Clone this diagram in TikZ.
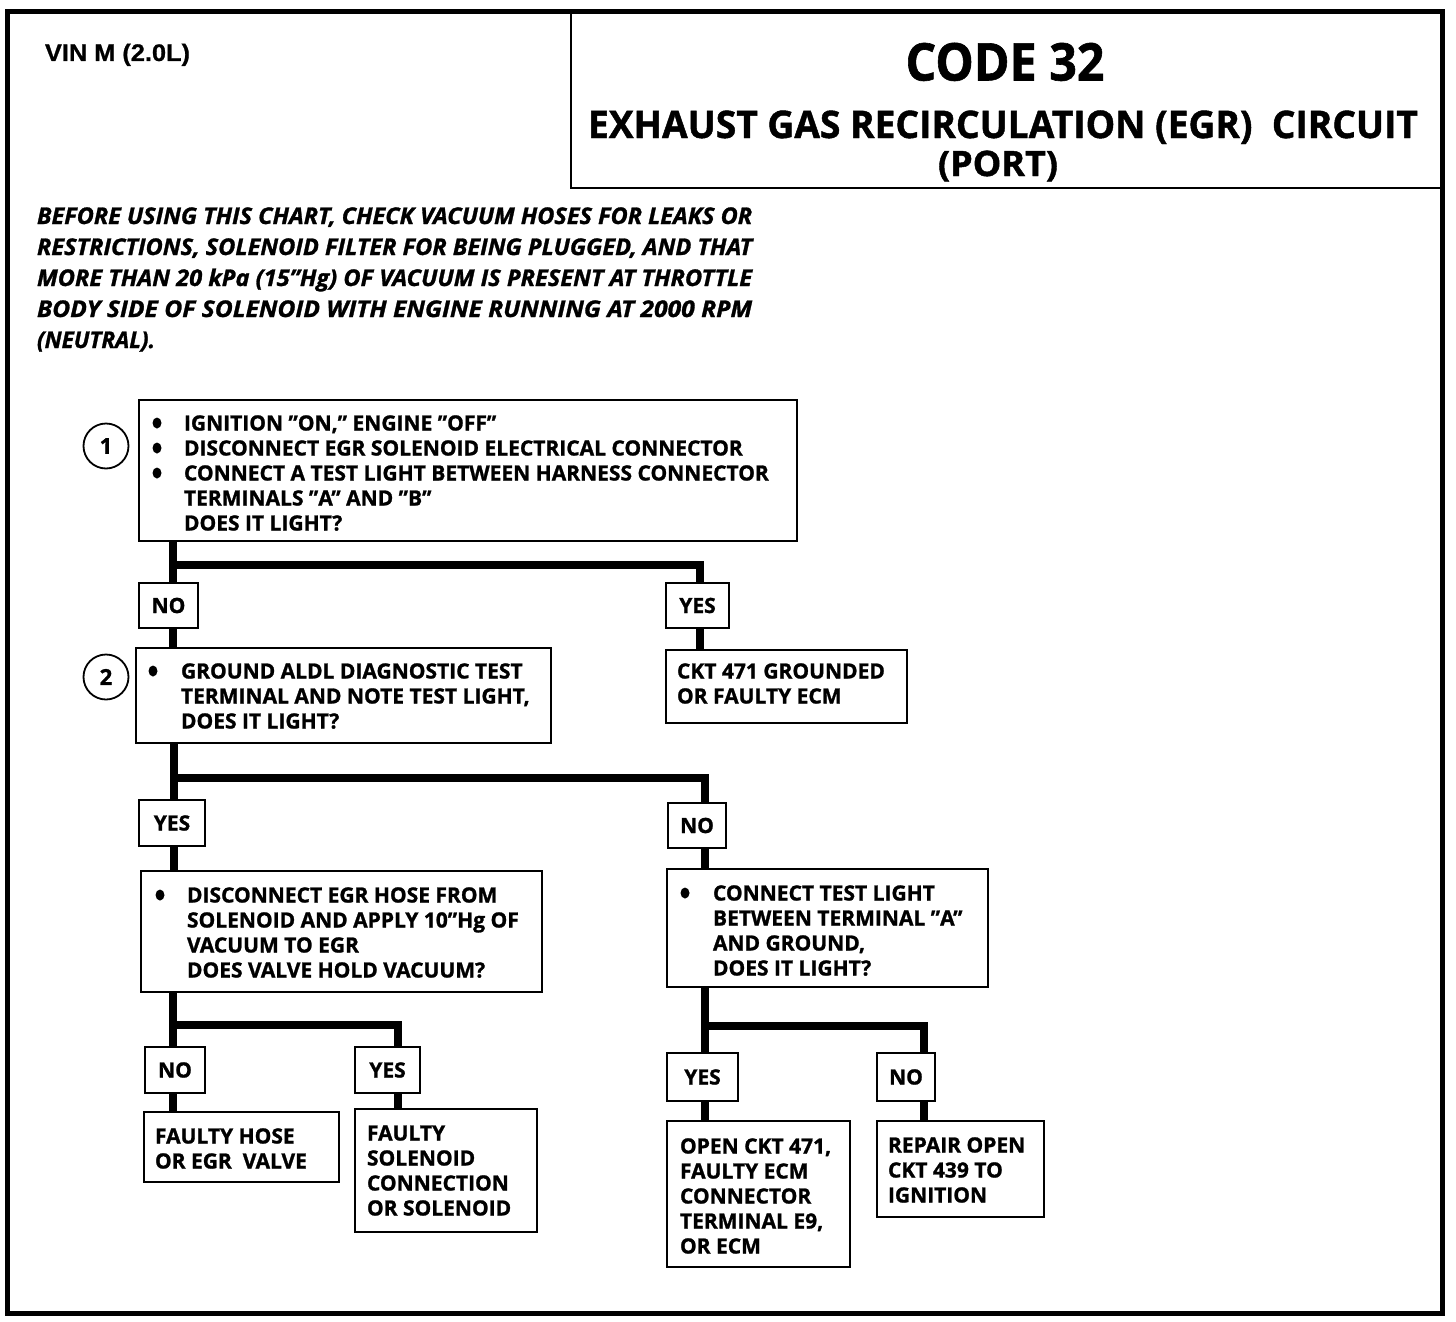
\documentclass[tikz,border=0pt]{standalone}
\usepackage{fontspec}
\usepackage{graphicx}
\setmainfont{Open Sans}[BoldFeatures={FakeBold=1.2},BoldItalicFeatures={FakeBold=1.2}]
\newfontfamily\vinfont{Liberation Sans}[BoldFeatures={FakeBold=0.8}]
\newcommand\fitto[2]{\resizebox{#1}{\height}{#2}}
\newcommand\lines[1]{\parbox[t]{900pt}{\raggedright\fontsize{21}{25}\selectfont\bfseries #1}}
\newcommand\bx[7][bxs]{\node[#1, minimum width={#5-#3}, minimum height={#6-#4}] (#2) at ({(#3+#5)/2},{(#4+#6)/2}) {#7};}
\tikzset{
  bxs/.style={draw, line width=2.6pt, inner sep=0, outer sep=0},
  lbl/.style={bxs, font=\bfseries\fontsize{21}{21}\selectfont},
  conn/.style={line width=8pt},
  txt/.style={anchor=base west, inner sep=0, outer sep=0},
  bul/.style={ellipse, fill, inner sep=0, minimum width=9pt, minimum height=11pt},
  num/.style={circle, draw, line width=1.8pt, minimum size=45pt, inner sep=0, font=\bfseries\fontsize{22}{22}\selectfont},
}
\usetikzlibrary{shapes.geometric}
\begin{document}
\begin{tikzpicture}[x=1pt,y=-1pt]
\useasboundingbox (0,0) rectangle (1456,1322);
% outer frame
\draw[line width=5pt] (7,12) rectangle (1442,1313);
% title box
\bx{title}{571}{12}{1442}{188}{}
\node[anchor=base, inner sep=0] (code) at (1005,80.5) {\fitto{199pt}{\fontsize{52}{52}\selectfont\bfseries CODE 32}};
\node[anchor=base, inner sep=0] (egr) at (1003,138) {\fitto{830pt}{\fontsize{38}{38}\selectfont\bfseries EXHAUST GAS RECIRCULATION (EGR)\ \ CIRCUIT}};
\node[anchor=base, inner sep=0] (port) at (998,176) {\fitto{120pt}{\fontsize{35}{35}\selectfont\bfseries (PORT)}};
% VIN
\node[txt] (vin) at (45,61) {\fitto{145pt}{\vinfont\fontsize{24}{24}\selectfont\bfseries VIN M (2.0L)}};
% italic note
\node[txt] (n1) at (37,224) {\fitto{715pt}{\fontsize{23}{23}\selectfont\bfseries\itshape BEFORE USING THIS CHART, CHECK VACUUM HOSES FOR LEAKS OR}};
\node[txt] (n2) at (37,255) {\fitto{715pt}{\fontsize{23}{23}\selectfont\bfseries\itshape RESTRICTIONS, SOLENOID FILTER FOR BEING PLUGGED, AND THAT}};
\node[txt] (n3) at (37,286) {\fitto{715pt}{\fontsize{23}{23}\selectfont\bfseries\itshape MORE THAN 20 kPa (15”Hg) OF VACUUM IS PRESENT AT THROTTLE}};
\node[txt] (n4) at (37,317) {\fitto{715pt}{\fontsize{23}{23}\selectfont\bfseries\itshape BODY SIDE OF SOLENOID WITH ENGINE RUNNING AT 2000 RPM}};
\node[txt] (n5) at (37,348) {\fitto{118pt}{\fontsize{23}{23}\selectfont\bfseries\itshape (NEUTRAL).}};
% step 1
\bx{b1}{139}{400}{797}{541}{}
\node[num] (c1) at (106,446) {1};
\node[bul] (b1a) at (157,423) {};
\node[bul] (b1b) at (157,448) {};
\node[bul] (b1c) at (157,473) {};
\node[txt] (b1t) at (184,430.5) {\lines{IGNITION ”ON,” ENGINE ”OFF”\\DISCONNECT EGR SOLENOID ELECTRICAL CONNECTOR\\CONNECT A TEST LIGHT BETWEEN HARNESS CONNECTOR\\TERMINALS ”A” AND ”B”\\DOES IT LIGHT?}};
\bx[lbl]{no1}{139}{583}{198}{628}{NO}
\bx[lbl]{yes1}{666}{583}{729}{628}{YES}
% step 2
\bx{b2}{136}{648}{551}{743}{}
\node[num] (c2) at (106,677) {2};
\node[bul] (b2a) at (153,671) {};
\node[txt] (b2t) at (181,678.5) {\lines{GROUND ALDL DIAGNOSTIC TEST\\TERMINAL AND NOTE TEST LIGHT,\\DOES IT LIGHT?}};
\bx{ckt}{666}{650}{907}{723}{}
\node[txt] (cktt) at (677,678.5) {\lines{CKT 471 GROUNDED\\OR FAULTY ECM}};
\bx[lbl]{yes2}{139}{800}{205}{846}{YES}
\bx[lbl]{no2}{668}{803}{726}{848}{NO}
% step 3
\bx{b3}{141}{871}{542}{992}{}
\node[bul] (b3a) at (160,895) {};
\node[txt] (b3t) at (187,902.5) {\lines{DISCONNECT EGR HOSE FROM\\SOLENOID AND APPLY 10”Hg OF\\VACUUM TO EGR\\DOES VALVE HOLD VACUUM?}};
\bx{b4}{667}{869}{988}{987}{}
\node[bul] (b4a) at (685,893) {};
\node[txt] (b4t) at (713,900.5) {\lines{CONNECT TEST LIGHT\\BETWEEN TERMINAL ”A”\\AND GROUND,\\DOES IT LIGHT?}};
\bx[lbl]{no3}{145}{1047}{205}{1093}{NO}
\bx[lbl]{yes3}{355}{1047}{420}{1093}{YES}
\bx[lbl]{yes4}{667}{1053}{738}{1101}{YES}
\bx[lbl]{no4}{877}{1053}{935}{1101}{NO}
% results
\bx{hose}{144}{1112}{339}{1182}{}
\node[txt] (hoset) at (155,1143.5) {\lines{FAULTY HOSE\\OR EGR\ \ VALVE}};
\bx{sol}{355}{1109}{537}{1232}{}
\node[txt] (solt) at (367,1140.5) {\lines{FAULTY\\SOLENOID\\CONNECTION\\OR SOLENOID}};
\bx{open}{667}{1121}{850}{1267}{}
\node[txt] (opent) at (680,1153.5) {\lines{OPEN CKT 471,\\FAULTY ECM\\CONNECTOR\\TERMINAL E9,\\OR ECM}};
\bx{rep}{877}{1121}{1044}{1217}{}
\node[txt] (rept) at (888,1152.5) {\lines{REPAIR\ OPEN\\CKT 439 TO\\IGNITION}};
% connectors
\coordinate (j1) at (173,565); \coordinate (k1) at (700,565);
\coordinate (j2) at (174,778); \coordinate (k2) at (705,778);
\coordinate (j3) at (173,1025); \coordinate (k3) at (398,1025);
\coordinate (j4) at (705,1026); \coordinate (k4) at (924,1026);
\draw[conn] (b1.south -| j1) -- (j1) -- (k1) -- (yes1.north -| k1);
\draw[conn] (j1) -- (no1.north -| j1);
\draw[conn] (no1.south -| j1) -- (b2.north -| j1);
\draw[conn] (yes1.south -| k1) -- (ckt.north -| k1);
\draw[conn] (b2.south -| j2) -- (j2) -- (k2) -- (no2.north -| k2);
\draw[conn] (j2) -- (yes2.north -| j2);
\draw[conn] (yes2.south -| j2) -- (b3.north -| j2);
\draw[conn] (no2.south -| k2) -- (b4.north -| k2);
\draw[conn] (b3.south -| j3) -- (j3) -- (k3) -- (yes3.north -| k3);
\draw[conn] (j3) -- (no3.north -| j3);
\draw[conn] (no3.south -| j3) -- (hose.north -| j3);
\draw[conn] (yes3.south -| k3) -- (sol.north -| k3);
\draw[conn] (b4.south -| j4) -- (j4) -- (k4) -- (no4.north -| k4);
\draw[conn] (j4) -- (yes4.north -| j4);
\draw[conn] (yes4.south -| j4) -- (open.north -| j4);
\draw[conn] (no4.south -| k4) -- (rep.north -| k4);
\end{tikzpicture}
\end{document}
